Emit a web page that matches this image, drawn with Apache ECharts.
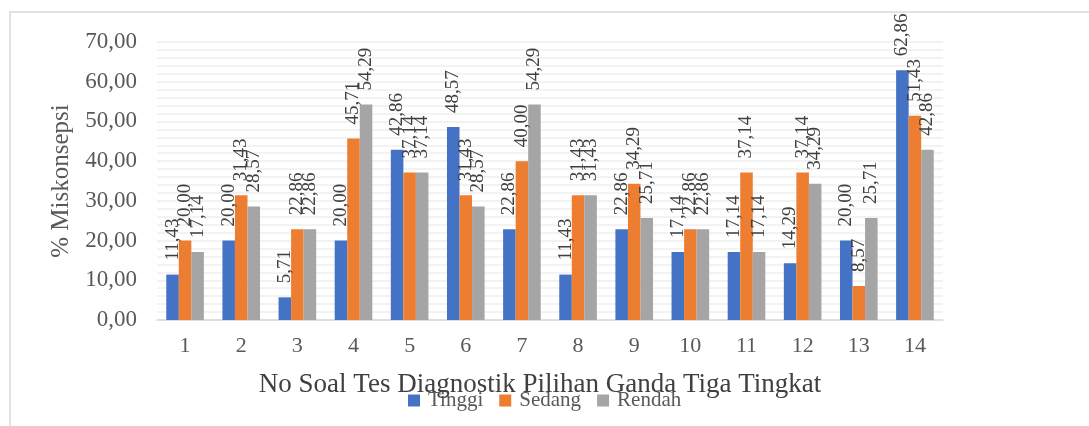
<!DOCTYPE html>
<html>
<head>
<meta charset="utf-8">
<script src="https://cdn.jsdelivr.net/npm/echarts@6/dist/echarts.min.js"></script>
<style>
  html, body { margin: 0; padding: 0; background: #fff; }
  #chart { width: 1089px; height: 426px; }
</style>
</head>
<body>
<div id="chart"></div>
<script>
// Question numbers on the category axis
const categories = ['1', '2', '3', '4', '5', '6', '7', '8', '9', '10', '11', '12', '13', '14'];

// Misconception percentage per student group
const tinggi = [11.43, 20.00, 5.71, 20.00, 42.86, 48.57, 22.86, 11.43, 22.86, 17.14, 17.14, 14.29, 20.00, 62.86];
const sedang = [20.00, 31.43, 22.86, 45.71, 37.14, 31.43, 40.00, 31.43, 34.29, 22.86, 37.14, 37.14, 8.57, 51.43];
const rendah = [17.14, 28.57, 22.86, 54.29, 37.14, 28.57, 54.29, 31.43, 25.71, 22.86, 17.14, 34.29, 25.71, 42.86];

const seriesNames = ['Tinggi', 'Sedang', 'Rendah'];
const seriesColors = ['#4472C4', '#ED7D31', '#A5A5A5'];

const FONT = 'Liberation Serif';
const fmt = v => v.toFixed(2).replace('.', ',');

const chart = echarts.init(document.getElementById('chart'));

function barSeries(name, data, color) {
  return {
    name: name,
    type: 'bar',
    data: data,
    barGap: '0%',
    barCategoryGap: '33%',
    itemStyle: { color: color },
    label: {
      show: true,
      position: 'top',
      rotate: 90,
      align: 'left',
      verticalAlign: 'middle',
      distance: 14,
      fontFamily: FONT,
      fontSize: 19,
      color: '#404040',
      formatter: p => fmt(p.value)
    }
  };
}

chart.setOption({
  animation: false,
  backgroundColor: '#fff',
  textStyle: { fontFamily: FONT },
  graphic: [{
    type: 'rect',
    shape: { x: 10, y: 12, width: 1100, height: 500 },
    style: { fill: 'none', stroke: '#d9d9d9', lineWidth: 1.5 },
    silent: true,
    z: -1
  }],
  grid: { left: 157, right: 146, top: 42, bottom: 106 },
  legend: {
    data: seriesNames,
    left: 403,
    top: 385,
    itemWidth: 12,
    itemHeight: 12,
    itemGap: 16,
    icon: 'rect',
    textStyle: { fontFamily: FONT, fontSize: 21, color: '#595959', padding: [0, 0, 0, 3] }
  },
  xAxis: {
    type: 'category',
    data: categories,
    name: 'No Soal Tes Diagnostik Pilihan Ganda Tiga Tingkat',
    nameLocation: 'middle',
    nameGap: 51,
    nameTextStyle: { fontFamily: FONT, fontSize: 27, color: '#404040', verticalAlign: 'top', padding: [0, 20, 0, 0] },
    axisLine: { lineStyle: { color: '#d9d9d9', width: 1.5 } },
    axisTick: { show: false },
    axisLabel: { fontFamily: FONT, fontSize: 22, color: '#595959', margin: 15 }
  },
  yAxis: {
    type: 'value',
    min: 0,
    max: 70,
    interval: 10,
    name: '% Miskonsepsi',
    nameLocation: 'middle',
    nameGap: 80,
    nameRotate: 90,
    nameTextStyle: { fontFamily: FONT, fontSize: 25, color: '#595959' },
    axisLine: { show: false },
    axisTick: { show: false },
    axisLabel: { fontFamily: FONT, fontSize: 23, color: '#595959', margin: 20, formatter: v => fmt(v) },
    splitLine: { lineStyle: { color: '#eeeeee', width: 1.5 } },
    minorSplitLine: { show: true, lineStyle: { color: '#f0f0f0', width: 1.5 } },
    minorTick: { show: false, splitNumber: 5 }
  },
  series: [
    barSeries(seriesNames[0], tinggi, seriesColors[0]),
    barSeries(seriesNames[1], sedang, seriesColors[1]),
    barSeries(seriesNames[2], rendah, seriesColors[2])
  ]
});
</script>
</body>
</html>
